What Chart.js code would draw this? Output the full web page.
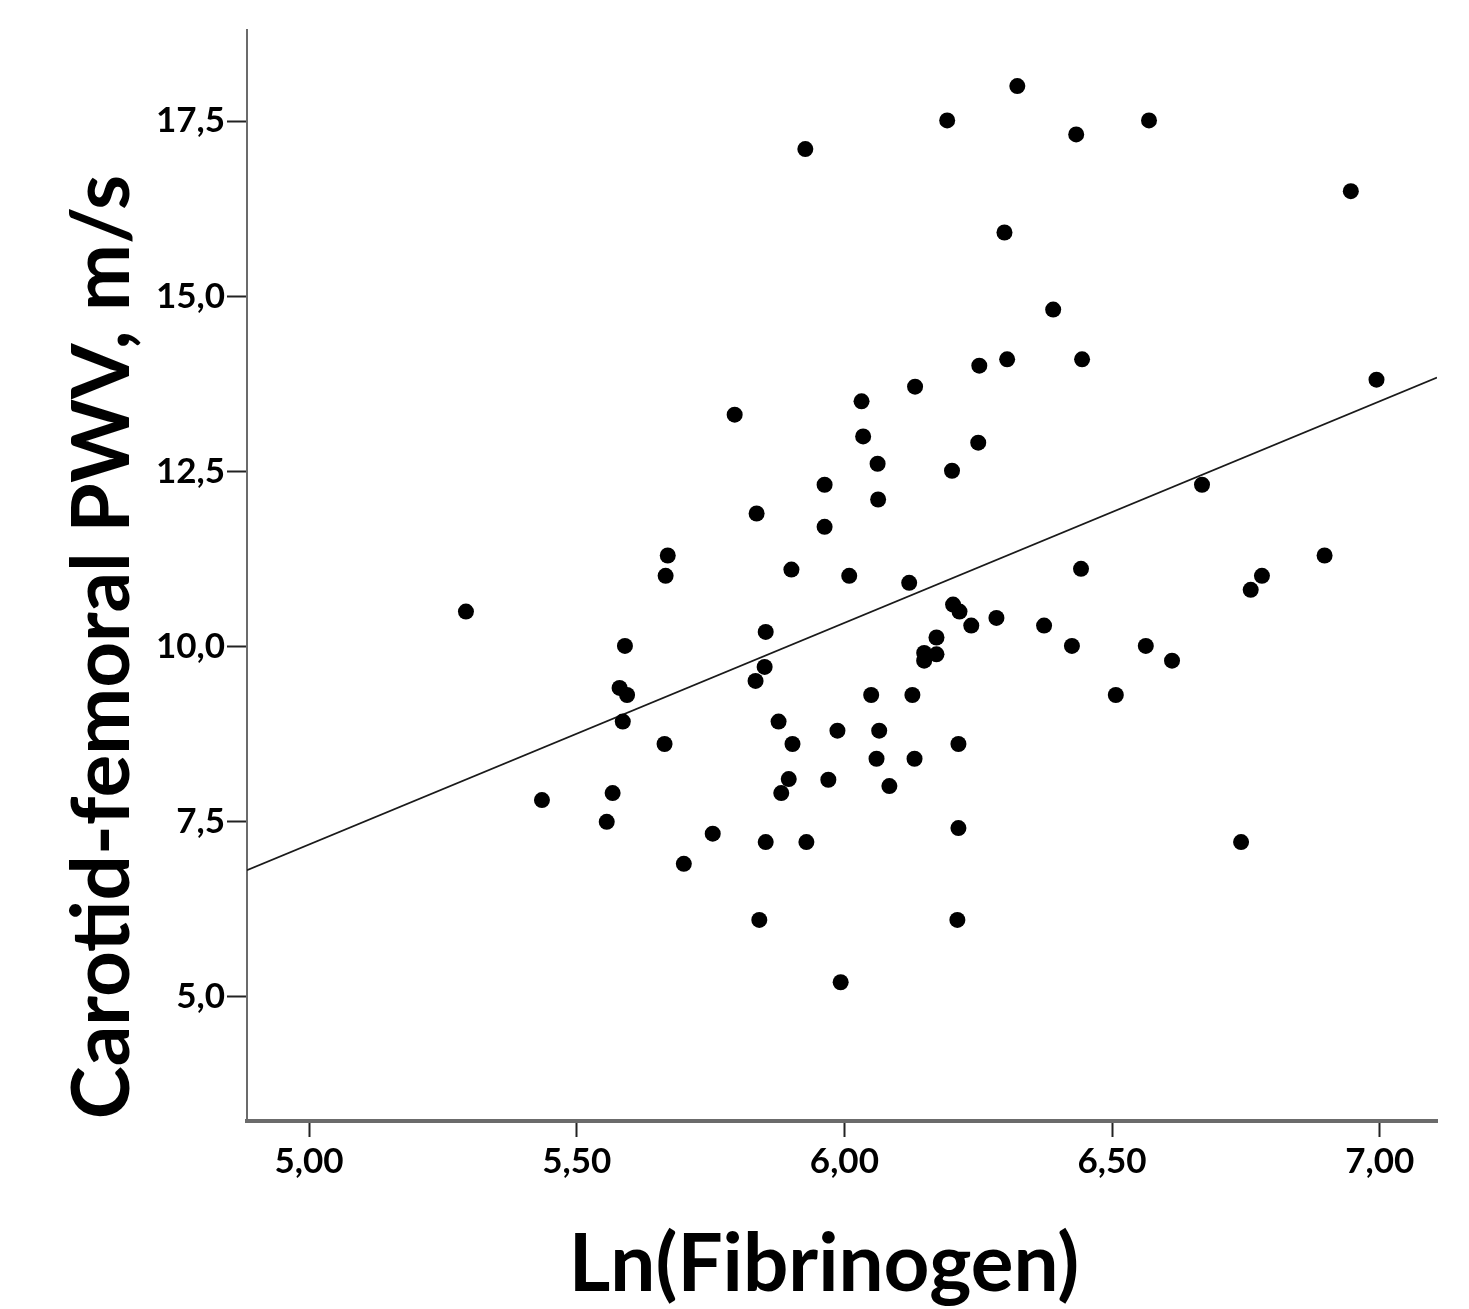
<!DOCTYPE html>
<html>
<head>
<meta charset="utf-8">
<title>Carotid-femoral PWV vs Ln(Fibrinogen)</title>
<script src="https://cdn.jsdelivr.net/npm/chart.js@4.4.1/dist/chart.umd.min.js"></script>
<style>
  html, body { margin: 0; padding: 0; background: #fff; }
  #wrap { width: 1469px; height: 1309px; }
</style>
</head>
<body>
<div id="wrap"><canvas id="chart" width="1469" height="1309"></canvas></div>
<script>
// ---- data ----
const lnFibrinogen = [
  5.293, 5.435, 5.567, 5.556, 5.590, 5.580, 5.594, 5.586, 5.670, 5.666,
  5.664, 5.700, 5.754, 5.795, 5.836, 5.834, 5.851, 5.853, 5.841, 5.853,
  5.877, 5.896, 5.882, 5.903, 5.901, 5.927, 5.929, 5.963, 5.963, 5.970,
  5.987, 5.993, 6.009, 6.032, 6.035, 6.062, 6.063, 6.050, 6.065, 6.060,
  6.084, 6.121, 6.132, 6.127, 6.131, 6.149, 6.149, 6.172, 6.172, 6.192,
  6.201, 6.203, 6.215, 6.237, 6.213, 6.213, 6.211, 6.250, 6.252, 6.284,
  6.299, 6.304, 6.323, 6.373, 6.390, 6.425, 6.433, 6.442, 6.444, 6.507,
  6.563, 6.569, 6.612, 6.668, 6.741, 6.759, 6.780, 6.897, 6.946, 6.994
];
const pwv = [
  10.50, 7.81, 7.91, 7.50, 10.01, 9.41, 9.31, 8.93, 11.30, 11.01,
  8.61, 6.90, 7.33, 13.31, 11.90, 9.51, 9.71, 10.21, 6.10, 7.21,
  8.93, 8.11, 7.91, 8.61, 11.10, 17.10, 7.21, 11.71, 12.31, 8.10,
  8.80, 5.21, 11.01, 13.50, 13.00, 12.61, 12.10, 9.31, 8.80, 8.40,
  8.01, 10.91, 13.71, 9.31, 8.40, 9.80, 9.91, 9.89, 10.13, 17.51,
  12.51, 10.60, 10.50, 10.30, 8.61, 7.41, 6.10, 12.91, 14.01, 10.41,
  15.91, 14.10, 18.00, 10.30, 14.81, 10.01, 17.31, 11.11, 14.10, 9.31,
  10.01, 17.51, 9.80, 12.31, 7.21, 10.81, 11.01, 11.30, 16.50, 13.81
];
// fitted line end points (at the axis limits)
const fitX = [4.884, 7.107];
const fitY = [6.81, 13.84];

const xTicks = [5.0, 5.5, 6.0, 6.5, 7.0];
const yTicks = [5.0, 7.5, 10.0, 12.5, 15.0, 17.5];
const xRange = [4.884, 7.107];
const yRange = [3.23, 18.8];

const xTitle = "Ln(Fibrinogen)";
const yTitle = "Carotid-femoral PWV, m/s";

// ---- helpers ----
const comma = (v, d) => Number(v).toFixed(d).replace(".", ",");

// axis titles drawn by hand so they sit where the original has them
const axisTitles = {
  id: "axisTitles",
  afterDraw(chart) {
    const { ctx } = chart;
    ctx.save();
    ctx.fillStyle = "#000";
    ctx.font = "bold 80px Lato";
    ctx.textAlign = "center";
    ctx.textBaseline = "alphabetic";
    ctx.fillText(xTitle, 824, 1291);
    ctx.translate(129, 647);
    ctx.rotate(-Math.PI / 2);
    ctx.fillText(yTitle, 0, 0);
    ctx.restore();
  }
};

const tickFont = { family: "Lato", size: 35, weight: "bold" };

new Chart(document.getElementById("chart").getContext("2d"), {
  type: "scatter",
  data: {
    datasets: [
      {
        label: "PWV",
        data: lnFibrinogen.map((x, i) => ({ x, y: pwv[i] })),
        backgroundColor: "#000",
        borderWidth: 0,
        pointRadius: 8,
        order: 1
      },
      {
        type: "line",
        label: "fit",
        data: fitX.map((x, i) => ({ x, y: fitY[i] })),
        borderColor: "#1a1a1a",
        borderWidth: 1.6,
        pointRadius: 0,
        fill: false,
        order: 2
      }
    ]
  },
  options: {
    responsive: false,
    animation: false,
    events: [],
    layout: { padding: { top: 30, right: 32, left: 0, bottom: 0 } },
    plugins: { legend: { display: false }, tooltip: { enabled: false } },
    scales: {
      x: {
        type: "linear",
        min: xRange[0], max: xRange[1],
        afterBuildTicks: s => { s.ticks = xTicks.map(v => ({ value: v })); },
        afterFit: s => { s.height = 188; },
        ticks: { color: "#000", font: tickFont, padding: 4, maxRotation: 0, callback: v => comma(v, 2) },
        grid: { drawOnChartArea: false, drawTicks: true, tickLength: 16, tickColor: "#222", tickWidth: 2 },
        border: { display: true, color: "#6b6b6b", width: 4 }
      },
      y: {
        type: "linear",
        min: yRange[0], max: yRange[1],
        afterBuildTicks: s => { s.ticks = yTicks.map(v => ({ value: v })); },
        afterFit: s => { s.width = 247; },
        ticks: { color: "#000", font: tickFont, padding: 2, callback: v => comma(v, 1) },
        grid: { drawOnChartArea: false, drawTicks: true, tickLength: 20, tickColor: "#222", tickWidth: 2 },
        border: { display: true, color: "#6b6b6b", width: 2 }
      }
    }
  },
  plugins: [axisTitles]
});
</script>
</body>
</html>
